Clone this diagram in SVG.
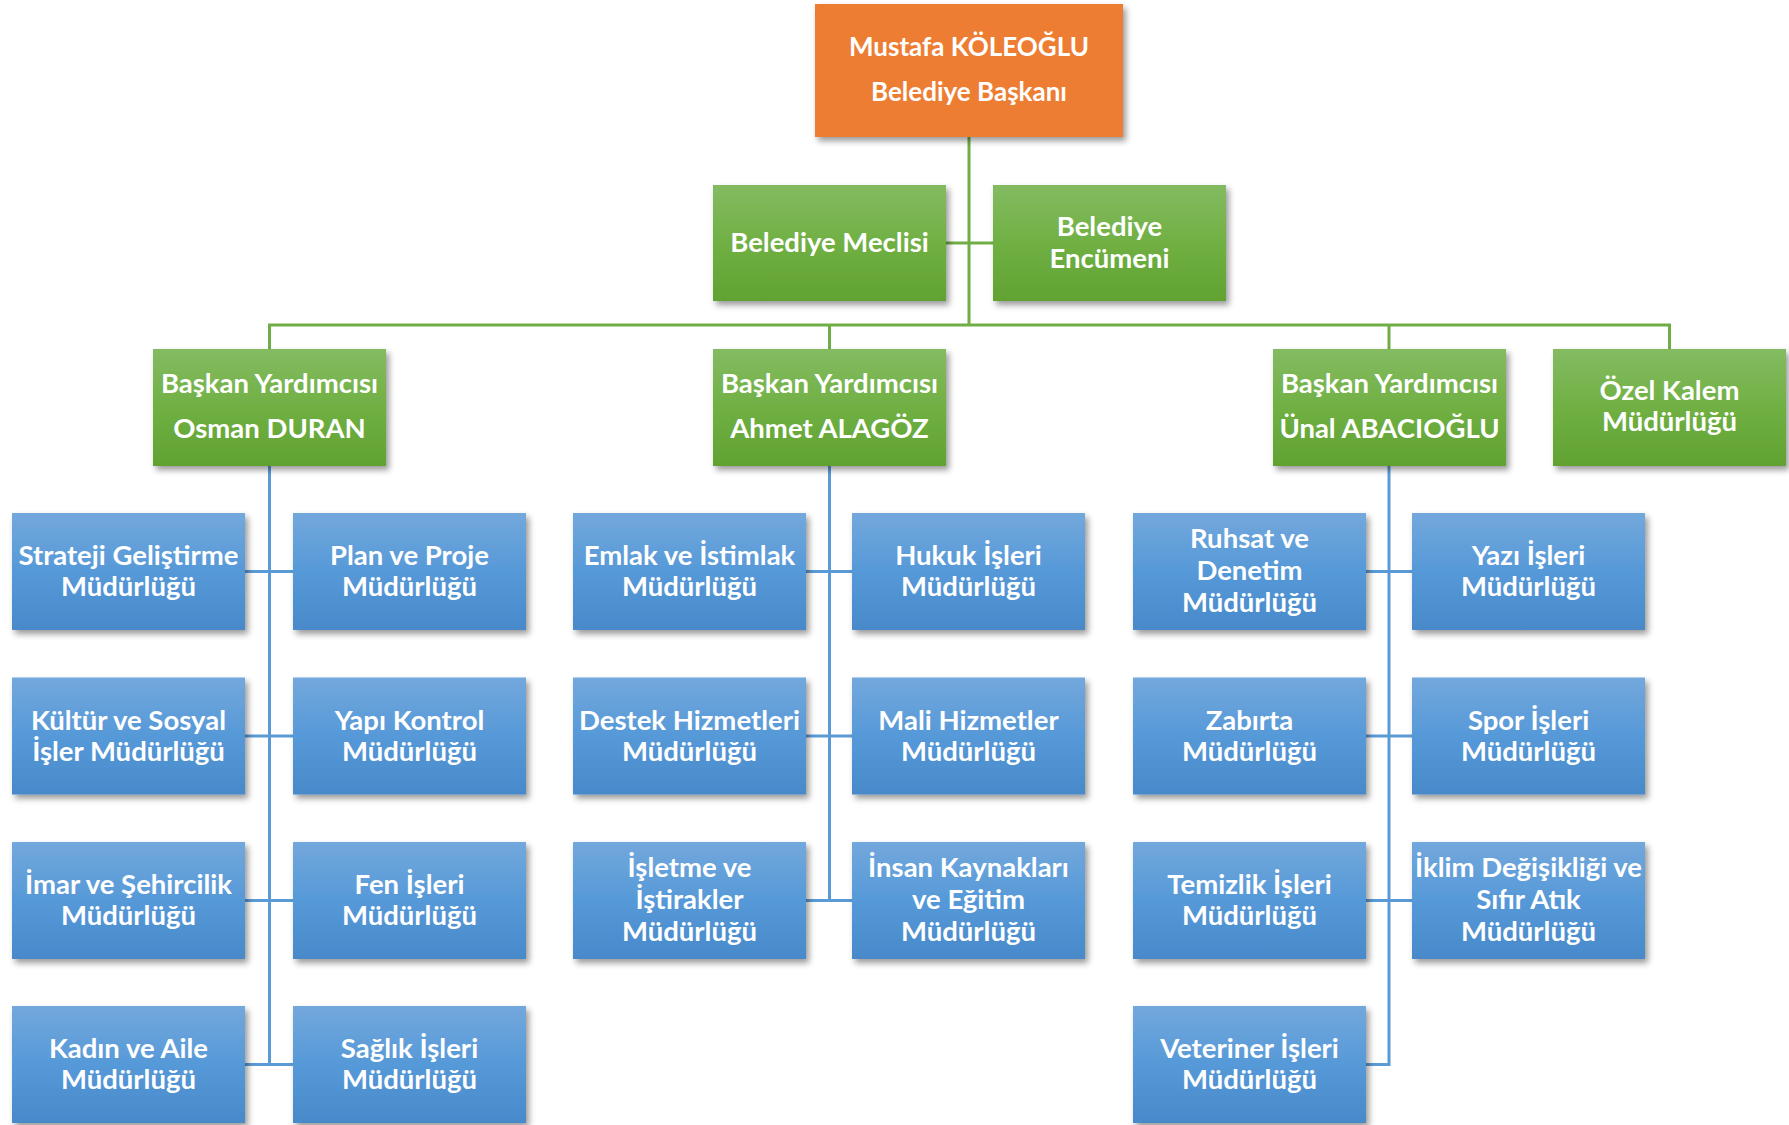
<svg xmlns="http://www.w3.org/2000/svg" width="1789" height="1125" viewBox="0 0 1789 1125">
<defs>
<linearGradient id="gGreen" x1="0" y1="0" x2="0" y2="1">
<stop offset="0" stop-color="#84BB62"/>
<stop offset="0.5" stop-color="#70B043"/>
<stop offset="1" stop-color="#61A232"/>
</linearGradient>
<linearGradient id="gBlue" x1="0" y1="0" x2="0" y2="1">
<stop offset="0" stop-color="#73A8DC"/>
<stop offset="0.5" stop-color="#5699D8"/>
<stop offset="1" stop-color="#4889CA"/>
</linearGradient>
<filter id="sh" x="-10%" y="-10%" width="125%" height="135%">
<feDropShadow dx="3" dy="4" stdDeviation="3" flood-color="#000" flood-opacity="0.4"/>
</filter>
</defs>
<style>
.o{fill:#ED7D31;filter:url(#sh)}
.g{fill:url(#gGreen);filter:url(#sh)}
.b{fill:url(#gBlue);filter:url(#sh)}
text{font-family:Lato,"Open Sans","Liberation Sans",sans-serif;font-weight:bold;font-size:27.5px;fill:#fff;text-anchor:middle}
#baskan text{font-size:26px}
.cg{stroke:#70AD47;stroke-width:3;fill:none}
.cb{stroke:#5B9BD5;stroke-width:3;fill:none}
</style>
<rect width="1789" height="1125" fill="#fff"/>
<g id="connectors">
<path class="cg" d="M969 137V325M946 243H993M269.5 349V325H1669.5V349M829.5 325V349M1389 325V349"/>
<path class="cb" d="M269.5 466V1064.5M245 571.5H293M245 736H293M245 900.5H293M245 1064.5H293"/>
<path class="cb" d="M829.5 466V900.5M805 571.5H852M805 736H852M805 900.5H852"/>
<path class="cb" d="M1389 466V1064.5H1366M1366 571.5H1412M1366 736H1412M1366 900.5H1412"/>
</g>
<g id="baskan"><rect class="o" x="815" y="4" width="308" height="133"/><text x="969" y="56">Mustafa KÖLEOĞLU</text><text x="969" y="101">Belediye Başkanı</text></g>
<g id="meclis"><rect class="g" x="713" y="185" width="233" height="116"/><text x="829.5" y="252">Belediye Meclisi</text></g>
<g id="encumen"><rect class="g" x="993" y="185" width="233" height="116"/><text x="1109.5" y="236">Belediye</text><text x="1109.5" y="268">Encümeni</text></g>
<g id="osman"><rect class="g" x="153" y="349" width="233" height="117"/><text x="269.5" y="393">Başkan Yardımcısı</text><text x="269.5" y="438">Osman DURAN</text></g>
<g id="ahmet"><rect class="g" x="713" y="349" width="233" height="117"/><text x="829.5" y="393">Başkan Yardımcısı</text><text x="829.5" y="438">Ahmet ALAGÖZ</text></g>
<g id="unal"><rect class="g" x="1273" y="349" width="233" height="117"/><text x="1389.5" y="393">Başkan Yardımcısı</text><text x="1389.5" y="438">Ünal ABACIOĞLU</text></g>
<g id="ozel"><rect class="g" x="1553" y="349" width="233" height="117"/><text x="1669.5" y="400">Özel Kalem</text><text x="1669.5" y="431">Müdürlüğü</text></g>
<g id="strateji"><rect class="b" x="12" y="513" width="233" height="117"/><text x="128.5" y="565">Strateji Geliştirme</text><text x="128.5" y="596">Müdürlüğü</text></g>
<g id="plan"><rect class="b" x="293" y="513" width="233" height="117"/><text x="409.5" y="565">Plan ve Proje</text><text x="409.5" y="596">Müdürlüğü</text></g>
<g id="kultur"><rect class="b" x="12" y="677.5" width="233" height="117"/><text x="128.5" y="729.5">Kültür ve Sosyal</text><text x="128.5" y="760.5">İşler Müdürlüğü</text></g>
<g id="yapi"><rect class="b" x="293" y="677.5" width="233" height="117"/><text x="409.5" y="729.5">Yapı Kontrol</text><text x="409.5" y="760.5">Müdürlüğü</text></g>
<g id="imar"><rect class="b" x="12" y="842" width="233" height="117"/><text x="128.5" y="894">İmar ve Şehircilik</text><text x="128.5" y="925">Müdürlüğü</text></g>
<g id="fen"><rect class="b" x="293" y="842" width="233" height="117"/><text x="409.5" y="894">Fen İşleri</text><text x="409.5" y="925">Müdürlüğü</text></g>
<g id="kadin"><rect class="b" x="12" y="1006" width="233" height="117"/><text x="128.5" y="1058">Kadın ve Aile</text><text x="128.5" y="1089">Müdürlüğü</text></g>
<g id="saglik"><rect class="b" x="293" y="1006" width="233" height="117"/><text x="409.5" y="1058">Sağlık İşleri</text><text x="409.5" y="1089">Müdürlüğü</text></g>
<g id="emlak"><rect class="b" x="573" y="513" width="233" height="117"/><text x="689.5" y="565">Emlak ve İstimlak</text><text x="689.5" y="596">Müdürlüğü</text></g>
<g id="hukuk"><rect class="b" x="852" y="513" width="233" height="117"/><text x="968.5" y="565">Hukuk İşleri</text><text x="968.5" y="596">Müdürlüğü</text></g>
<g id="destek"><rect class="b" x="573" y="677.5" width="233" height="117"/><text x="689.5" y="729.5">Destek Hizmetleri</text><text x="689.5" y="760.5">Müdürlüğü</text></g>
<g id="mali"><rect class="b" x="852" y="677.5" width="233" height="117"/><text x="968.5" y="729.5">Mali Hizmetler</text><text x="968.5" y="760.5">Müdürlüğü</text></g>
<g id="isletme"><rect class="b" x="573" y="842" width="233" height="117"/><text x="689.5" y="877">İşletme ve</text><text x="689.5" y="909">İştirakler</text><text x="689.5" y="941">Müdürlüğü</text></g>
<g id="insan"><rect class="b" x="852" y="842" width="233" height="117"/><text x="968.5" y="877">İnsan Kaynakları</text><text x="968.5" y="909">ve Eğitim</text><text x="968.5" y="941">Müdürlüğü</text></g>
<g id="ruhsat"><rect class="b" x="1133" y="513" width="233" height="117"/><text x="1249.5" y="548">Ruhsat ve</text><text x="1249.5" y="580">Denetim</text><text x="1249.5" y="612">Müdürlüğü</text></g>
<g id="yazi"><rect class="b" x="1412" y="513" width="233" height="117"/><text x="1528.5" y="565">Yazı İşleri</text><text x="1528.5" y="596">Müdürlüğü</text></g>
<g id="zabita"><rect class="b" x="1133" y="677.5" width="233" height="117"/><text x="1249.5" y="729.5">Zabırta</text><text x="1249.5" y="760.5">Müdürlüğü</text></g>
<g id="spor"><rect class="b" x="1412" y="677.5" width="233" height="117"/><text x="1528.5" y="729.5">Spor İşleri</text><text x="1528.5" y="760.5">Müdürlüğü</text></g>
<g id="temizlik"><rect class="b" x="1133" y="842" width="233" height="117"/><text x="1249.5" y="894">Temizlik İşleri</text><text x="1249.5" y="925">Müdürlüğü</text></g>
<g id="iklim"><rect class="b" x="1412" y="842" width="233" height="117"/><text x="1528.5" y="877">İklim Değişikliği ve</text><text x="1528.5" y="909">Sıfır Atık</text><text x="1528.5" y="941">Müdürlüğü</text></g>
<g id="veteriner"><rect class="b" x="1133" y="1006" width="233" height="117"/><text x="1249.5" y="1058">Veteriner İşleri</text><text x="1249.5" y="1089">Müdürlüğü</text></g>
</svg>
